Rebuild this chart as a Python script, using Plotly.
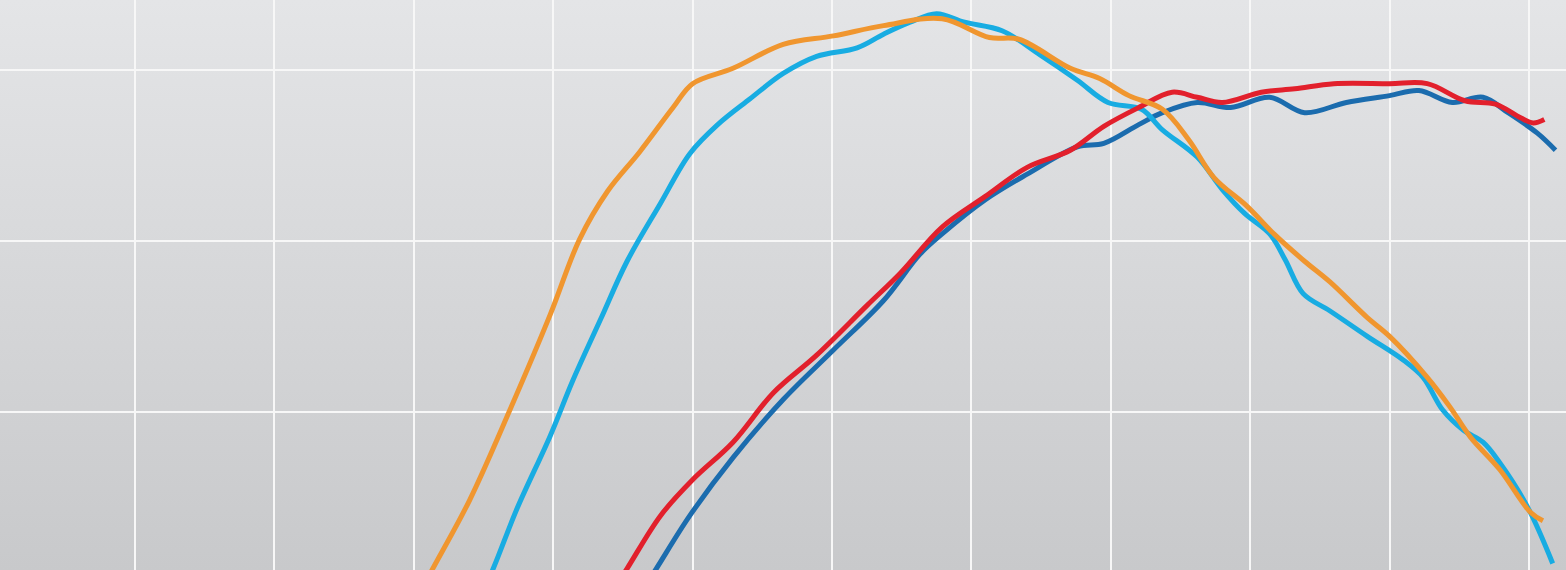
import urllib.parse
import plotly.graph_objects as go

# ---- data (grid units: vertical gridlines at integer x, horizontal at integer y) ----
orange_x = [2.02, 2.13, 2.40, 2.69, 2.98, 3.19, 3.39, 3.62, 3.86, 4.00, 4.29, 4.65, 5.01, 5.37, 5.79,
            6.13, 6.34, 6.71, 6.92, 7.13, 7.37, 7.56, 7.74, 7.98, 8.17, 8.39, 8.57, 8.84, 9.00,
            9.27, 9.43, 9.58, 9.79, 10.01, 10.10]
orange_y = [-0.10, 0.07, 0.48, 1.01, 1.57, 2.01, 2.29, 2.52, 2.78, 2.92, 3.01, 3.15, 3.20, 3.26, 3.30,
            3.19, 3.18, 3.01, 2.95, 2.85, 2.77, 2.59, 2.37, 2.20, 2.04, 1.88, 1.76, 1.55, 1.44,
            1.20, 1.03, 0.85, 0.66, 0.41, 0.36]

lightblue_x = [2.47, 2.57, 2.74, 2.98, 3.14, 3.34, 3.53, 3.77, 3.98, 4.18, 4.41, 4.65, 4.89, 5.18,
               5.37, 5.56, 5.75, 5.95, 6.22, 6.49, 6.76, 6.98, 7.22, 7.37, 7.62, 7.80, 7.96, 8.14,
               8.25, 8.38, 8.57, 8.84, 9.10, 9.24, 9.38, 9.53, 9.67, 9.79, 9.99, 10.17]
lightblue_y = [-0.10, 0.08, 0.43, 0.86, 1.18, 1.54, 1.88, 2.22, 2.51, 2.68, 2.83, 2.98, 3.08, 3.13,
               3.21, 3.28, 3.33, 3.28, 3.23, 3.09, 2.94, 2.81, 2.77, 2.65, 2.49, 2.30, 2.16, 2.04,
               1.89, 1.69, 1.59, 1.44, 1.30, 1.20, 1.01, 0.89, 0.82, 0.70, 0.44, 0.11]

red_x = [3.39, 3.53, 3.77, 4.00, 4.29, 4.58, 4.89, 5.25, 5.49, 5.79, 6.10, 6.40, 6.71, 6.95, 7.20,
         7.44, 7.62, 7.80, 8.08, 8.32, 8.60, 9.00, 9.27, 9.54, 9.76, 9.94, 10.03, 10.11]
red_y = [-0.10, 0.08, 0.39, 0.60, 0.82, 1.11, 1.33, 1.62, 1.81, 2.08, 2.26, 2.43, 2.53, 2.67, 2.78,
         2.87, 2.84, 2.81, 2.87, 2.89, 2.92, 2.92, 2.92, 2.82, 2.80, 2.72, 2.69, 2.71]

darkblue_x = [3.60, 3.74, 3.98, 4.29, 4.65, 5.01, 5.37, 5.63, 5.79, 6.10, 6.40, 6.76, 6.95, 7.20,
              7.37, 7.62, 7.86, 8.14, 8.39, 8.69, 9.00, 9.21, 9.45, 9.67, 9.85, 10.06, 10.19]
darkblue_y = [-0.10, 0.08, 0.39, 0.73, 1.07, 1.36, 1.65, 1.92, 2.04, 2.24, 2.39, 2.55, 2.57, 2.68,
              2.75, 2.81, 2.78, 2.84, 2.75, 2.81, 2.85, 2.88, 2.81, 2.84, 2.75, 2.63, 2.53]

series = [
    ("dark blue", darkblue_x, darkblue_y, "#1B6CAE"),
    ("light blue", lightblue_x, lightblue_y, "#18ACE2"),
    ("red", red_x, red_y, "#E2202C"),
    ("orange", orange_x, orange_y, "#F0962F"),
]

W, H = 1566, 570

fig = go.Figure()
for name, xs, ys, col in series:
    fig.add_trace(go.Scatter(
        x=xs, y=ys, mode="lines", name=name,
        line=dict(color=col, width=5, shape="spline", smoothing=1.0),
        hoverinfo="skip",
    ))

svg = (
    f'<svg xmlns="http://www.w3.org/2000/svg" width="{W}" height="{H}" '
    f'viewBox="0 0 {W} {H}" preserveAspectRatio="none">'
    '<defs><linearGradient id="g" x1="0" y1="0" x2="0" y2="1">'
    '<stop offset="0" stop-color="#e4e5e7"/><stop offset="1" stop-color="#c8c9cb"/>'
    '</linearGradient></defs>'
    f'<rect x="0" y="0" width="{W}" height="{H}" fill="url(#g)"/></svg>'
)
bg_uri = "data:image/svg+xml;charset=utf-8," + urllib.parse.quote(svg)

fig.update_layout(
    width=W, height=H,
    margin=dict(l=0, r=0, t=0, b=0),
    paper_bgcolor="#d6d7d9",
    plot_bgcolor="rgba(0,0,0,0)",
    showlegend=False,
    images=[dict(source=bg_uri, xref="paper", yref="paper", x=0, y=1,
                 sizex=1, sizey=1, xanchor="left", yanchor="top",
                 sizing="stretch", layer="below")],
    xaxis=dict(range=[-0.9684, 10.2654], tick0=0, dtick=1, showticklabels=False,
               showgrid=True, gridcolor="#f7f7f7", gridwidth=2, zeroline=False,
               showline=False, ticks=""),
    yaxis=dict(range=[0.0717, 3.41], tick0=0, dtick=1, showticklabels=False,
               showgrid=True, gridcolor="#f7f7f7", gridwidth=2, zeroline=False,
               showline=False, ticks=""),
)

fig.write_html(
    "out.html",
    config={"displayModeBar": False},
    post_script="document.body.style.margin='0';document.body.style.overflow='hidden';",
)
